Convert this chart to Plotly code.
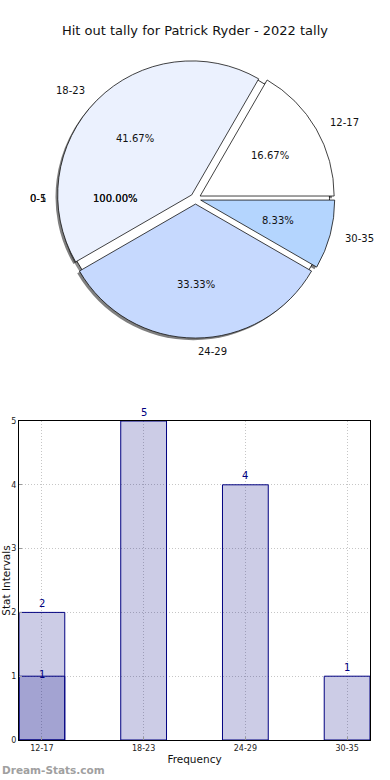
import numpy as np
import plotly.graph_objects as go

# ---------------- data ----------------
title_text = "Hit out tally for Patrick Ryder - 2022 tally"
pie_labels = ["12-17", "18-23", "24-29", "30-35"]
pie_values = [2, 5, 4, 1]
pie_colors = ["#FFFFFF", "#EBF1FE", "#C6D9FE", "#B4D5FE"]
zero_labels = ["0-5"]
zero_values = [1]

bar_categories = ["12-17", "18-23", "24-29", "30-35"]
bar_values = [2, 5, 4, 1]
overlay_categories = ["12-17"]
overlay_values = [1]
y_ticks = [0, 1, 2, 3, 4, 5]

# ---------------- layout helpers ----------------
W, H = 390, 780
FONT = "DejaVu Sans"


def px_x(x):
    return x / W


def px_y(y):
    return 1 - y / H


cx, cy = 195.5, 198.7   # pie centre (px)
R = 134.0               # pie radius (px)
PULL = 0.04
SH = 2.2                # shadow offset (px)

# plotly (counterclockwise): first slice spans [rotation, rotation+size] clockwise from 12 o'clock;
# we want the first slice to start at 3 o'clock and go counterclockwise
first_frac = pie_values[0] / sum(pie_values)
ROT = 90 - 360 * first_frac


def pie_domain(dx=0.0, dy=0.0, pull=PULL):
    half = R * (1 + pull)
    return dict(x=[px_x(cx + dx - half), px_x(cx + dx + half)],
                y=[px_y(cy + dy + half), px_y(cy + dy - half)])


fig = go.Figure()

# shadow of main pie
fig.add_trace(go.Pie(labels=pie_labels, values=pie_values, sort=False,
                     direction="counterclockwise", rotation=ROT,
                     pull=[PULL] * len(pie_values),
                     marker=dict(colors=["rgba(0,0,0,0.5)"] * len(pie_values),
                                 line=dict(width=0)),
                     textinfo="none", hoverinfo="skip", showlegend=False,
                     domain=pie_domain(-SH, SH)))
# shadow of the 0-5 pie
fig.add_trace(go.Pie(labels=zero_labels, values=zero_values, sort=False,
                     direction="counterclockwise", rotation=0,
                     marker=dict(colors=["rgba(0,0,0,0.45)"], line=dict(width=0)),
                     textinfo="none", hoverinfo="skip", showlegend=False,
                     domain=pie_domain(-SH, SH, pull=0)))
# the 0-5 pie (full circle)
fig.add_trace(go.Pie(labels=zero_labels, values=zero_values, sort=False,
                     direction="counterclockwise", rotation=0,
                     marker=dict(colors=["#FFFFFF"], line=dict(color="#000", width=0.8)),
                     textinfo="none", hoverinfo="skip", showlegend=False,
                     domain=pie_domain(0, 0, pull=0)))
# main pie
fig.add_trace(go.Pie(labels=pie_labels, values=pie_values, sort=False,
                     direction="counterclockwise", rotation=ROT,
                     pull=[PULL] * len(pie_values),
                     marker=dict(colors=pie_colors, line=dict(color="#111", width=0.8)),
                     textinfo="none", showlegend=False,
                     domain=pie_domain()))

annotations = []


def pie_texts(labels, values, pull):
    vals = np.array(values, dtype=float)
    frac = vals / vals.sum()
    cum = np.cumsum(frac)
    mids = 2 * np.pi * (cum - frac / 2)
    for lab, f, th in zip(labels, frac, mids):
        c, s = np.cos(th), np.sin(th)
        off = pull * R
        lx = cx + (1.1 * R + off) * c
        ly = cy - (1.1 * R + off) * s
        annotations.append(dict(x=px_x(lx), y=px_y(ly), xref="paper", yref="paper",
                                text=lab, showarrow=False,
                                xanchor="left" if c > 0 else "right", yanchor="middle",
                                font=dict(family=FONT, size=10, color="#111")))
        tx = cx + (0.6 * R + off) * c
        ty = cy - (0.6 * R + off) * s
        annotations.append(dict(x=px_x(tx), y=px_y(ty), xref="paper", yref="paper",
                                text="%.2f%%" % (f * 100), showarrow=False,
                                xanchor="center", yanchor="middle",
                                font=dict(family=FONT, size=10, color="#111")))


pie_texts(pie_labels, pie_values, PULL)
pie_texts(zero_labels, zero_values, 0)
# overlapping duplicate text from the underlying pie
pie_texts(["0-1"], zero_values, 0)

# ---------------- bar chart ----------------
bar_fill = "rgba(0,0,128,0.2)"
fig.add_trace(go.Bar(x=bar_categories, y=bar_values, width=0.45,
                     marker=dict(color=bar_fill, line=dict(color="#000080", width=1)),
                     showlegend=False, xaxis="x", yaxis="y"))
fig.add_trace(go.Bar(x=overlay_categories, y=overlay_values, width=0.45,
                     marker=dict(color=bar_fill, line=dict(color="#000080", width=1)),
                     showlegend=False, xaxis="x", yaxis="y"))

for c, v in zip(bar_categories, bar_values):
    annotations.append(dict(x=c, y=v, xref="x", yref="y", text=str(v), showarrow=False,
                            yanchor="middle", yshift=9,
                            font=dict(family=FONT, size=10, color="#000080")))
for c, v in zip(overlay_categories, overlay_values):
    annotations.append(dict(x=c, y=v, xref="x", yref="y", text=str(v), showarrow=False,
                            yanchor="middle", yshift=2,
                            font=dict(family=FONT, size=10, color="#000080")))

# watermark
annotations.append(dict(x=0, y=px_y(770), xref="paper", yref="paper",
                        text="<b>Dream-Stats.com</b>", showarrow=False,
                        xanchor="left", yanchor="middle",
                        font=dict(family=FONT, size=10.5, color="#A0A0A0")))

grid = dict(showgrid=True, gridcolor="rgba(160,160,160,0.6)", griddash="1px,2px", gridwidth=1)

fig.update_layout(
    width=W, height=H,
    margin=dict(l=0, r=0, t=0, b=0),
    paper_bgcolor="white", plot_bgcolor="white",
    barmode="overlay",
    showlegend=False,
    title=dict(text=title_text, x=0.5, xanchor="center", y=px_y(30), yanchor="middle",
               font=dict(family=FONT, size=13, color="#111")),
    xaxis=dict(domain=[px_x(19), px_x(370)], anchor="y",
               type="category", categoryorder="array", categoryarray=bar_categories,
               range=[-0.225, 3.225],
               showline=True, linecolor="#000", linewidth=1, mirror=True,
               ticks="inside", ticklen=3, tickcolor="#999",
               tickfont=dict(family=FONT, size=8, color="#222"),
               title=dict(text="Frequency", standoff=4,
                          font=dict(family=FONT, size=10.5, color="#111")),
               automargin=False, **grid),
    yaxis=dict(domain=[px_y(740), px_y(421)], anchor="x",
               range=[0, 5], tickvals=y_ticks,
               showline=True, linecolor="#000", linewidth=1, mirror=True,
               ticks="inside", ticklen=3, tickcolor="#999",
               tickfont=dict(family=FONT, size=8, color="#222"),
               title=dict(text="Stat Intervals", standoff=0,
                          font=dict(family=FONT, size=10.5, color="#111")),
               zeroline=False, automargin=False, **grid),
    annotations=annotations,
    font=dict(family=FONT),
)

fig.write_html("out.html",
               config={"displayModeBar": False},
               post_script="document.body.style.margin='0';document.body.style.overflow='hidden';")
